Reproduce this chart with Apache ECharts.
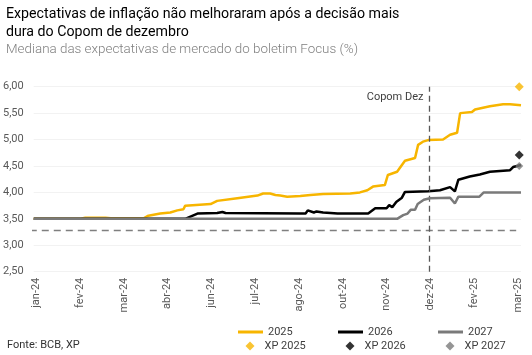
<!DOCTYPE html>
<html>
<head>
<meta charset="utf-8">
<script src="https://cdn.jsdelivr.net/npm/echarts@6/dist/echarts.min.js"></script>
<style>
html,body{margin:0;padding:0;background:#fff;}
#c{width:532px;height:355px;}
</style>
</head>
<body>
<div id="c"></div>
<script>
// x unit: 10 units between consecutive axis labels
const tickPos = [0, 10, 20, 30, 40, 50, 60, 70, 80, 90, 100, 110];
const tickLabels = ['jan-24','fev-24','mar-24','abr-24','jun-24','jul-24','ago-24','out-24','nov-24','dez-24','fev-25','mar-25'];

const x2025 = [-0.6, 10.1, 11.2, 15.8, 17.0, 24.5, 25.6, 28.3, 30.6, 32.2, 33.6, 34.0, 39.8, 41.3, 45.9, 50.5, 51.8, 53.4, 54.6, 55.7, 57.3, 60.3, 62.6, 65.5, 71.7, 73.9, 75.6, 76.9, 79.6, 80.3, 82.4, 83.5, 84.2, 86.5, 87.2, 88.3, 89.5, 92.9, 94.5, 96.1, 96.8, 99.5, 100.2, 103.6, 106.6, 108.2, 108.6, 110.7];
const y2025 = [3.50, 3.50, 3.52, 3.52, 3.51, 3.51, 3.56, 3.60, 3.62, 3.66, 3.68, 3.75, 3.78, 3.84, 3.89, 3.94, 3.98, 3.98, 3.95, 3.94, 3.92, 3.93, 3.95, 3.97, 3.98, 4.00, 4.04, 4.11, 4.14, 4.33, 4.39, 4.52, 4.60, 4.65, 4.90, 4.96, 4.99, 5.00, 5.09, 5.13, 5.50, 5.52, 5.57, 5.63, 5.67, 5.67, 5.65, 5.65];

const x2026 = [-0.6, 34.0, 36.8, 41.3, 42.5, 43.2, 60.3, 61.5, 62.0, 63.4, 64.0, 65.5, 67.2, 68.8, 75.8, 77.4, 80.0, 80.6, 81.3, 82.2, 83.5, 84.2, 89.5, 92.2, 94.5, 95.6, 96.4, 99.0, 101.3, 103.6, 108.2, 108.9, 110.7];
const y2026 = [3.50, 3.50, 3.60, 3.61, 3.63, 3.61, 3.60, 3.60, 3.66, 3.62, 3.64, 3.62, 3.61, 3.60, 3.60, 3.70, 3.70, 3.76, 3.72, 3.82, 3.90, 4.01, 4.02, 4.04, 4.10, 4.02, 4.24, 4.30, 4.34, 4.39, 4.42, 4.48, 4.52];

const x2027 = [-0.6, 82.4, 83.8, 84.8, 85.5, 86.5, 87.1, 88.5, 89.9, 94.5, 95.6, 96.4, 101.2, 102.2, 110.7];
const y2027 = [3.50, 3.50, 3.57, 3.60, 3.67, 3.67, 3.78, 3.86, 3.89, 3.90, 3.79, 3.92, 3.92, 4.00, 4.00];

const xpX = 110.3;
const xp2025 = 6.00;
const xp2026 = 4.71;
const xp2027 = 4.50;

const refLineX = [-1.5, 109.6];
const refLineY = 3.28;
const copomX = 89.8;
const copomLabel = 'Copom Dez';

const zip = (xs, ys) => xs.map((x, i) => [x, ys[i]]);

const FONT = 'Roboto';
const chart = echarts.init(document.getElementById('c'), null, {renderer: 'canvas'});

const option = {
  animation: false,
  backgroundColor: '#fff',
  textStyle: {fontFamily: FONT},
  title: {
    left: 6, top: 5, padding: 0, itemGap: 2,
    text: 'Expectativas de inflação não melhoraram após a decisão mais\ndura do Copom de dezembro',
    textStyle: {fontFamily: FONT, fontSize: 14.2, fontWeight: 400, color: '#000', lineHeight: 18},
    subtext: 'Mediana das expectativas de mercado do boletim Focus (%)',
    subtextStyle: {fontFamily: FONT, fontSize: 13.4, fontWeight: 300, color: '#7f7f7f', lineHeight: 14}
  },
  grid: {left: 33, right: 11, top: 86.7, bottom: 83.3, containLabel: false},
  xAxis: {
    type: 'value', min: -0.6, max: 110.7,
    axisLine: {show: false}, axisTick: {show: false}, splitLine: {show: false},
    axisLabel: {
      customValues: tickPos,
      rotate: 90, margin: 6, fontSize: 11, color: '#595959', fontFamily: FONT,
      formatter: v => { const i = tickPos.indexOf(Math.round(v)); return i >= 0 ? tickLabels[i] : ''; }
    }
  },
  yAxis: {
    type: 'value', min: 2.5, max: 6, interval: 0.5,
    axisLine: {show: false}, axisTick: {show: false},
    splitLine: {lineStyle: {color: '#f2f2f2', width: 1}},
    axisLabel: {margin: 10, fontSize: 11, color: '#595959', fontFamily: FONT,
      formatter: v => v.toFixed(2).replace('.', ',')}
  },
  legend: [
    {
      data: [{name: '2025', icon: 'rect'}, {name: '2026', icon: 'rect'}, {name: '2027', icon: 'rect'}],
      left: 238, top: 325, width: 294, itemWidth: 25, itemHeight: 3, itemGap: 8, padding: 0,
      textStyle: {fontFamily: FONT, fontSize: 11, color: '#404040', width: 62, lineHeight: 14}
    },
    {
      data: [{name: 'XP 2025', icon: 'diamond'}, {name: 'XP 2026', icon: 'diamond'}, {name: 'XP 2027', icon: 'diamond'}],
      left: 245.5, top: 339, width: 286, itemWidth: 9, itemHeight: 9, itemGap: 15, padding: 0,
      textStyle: {fontFamily: FONT, fontSize: 11, color: '#404040', width: 66, lineHeight: 14, padding: [0, 0, 0, 5]}
    }
  ],
  series: [
    {
      name: 'ref', type: 'line', data: zip(refLineX, [refLineY, refLineY]), symbol: 'none', clip: false,
      lineStyle: {color: '#7f7f7f', width: 1.5, type: [7, 5]}, silent: true, z: 1
    },
    {
      name: '2025', type: 'line', data: zip(x2025, y2025), symbol: 'none',
      lineStyle: {color: '#F7B500', width: 2.5}, itemStyle: {color: '#F7B500'}, z: 3
    },
    {
      name: '2026', type: 'line', data: zip(x2026, y2026), symbol: 'none',
      lineStyle: {color: '#000000', width: 2.5}, itemStyle: {color: '#000000'}, z: 4,
      markLine: {
        silent: true, symbol: 'none', label: {show: false},
        lineStyle: {color: '#595959', width: 1.3, type: [6, 4]},
        data: [{xAxis: copomX}]
      }
    },
    {
      name: '2027', type: 'line', data: zip(x2027, y2027), symbol: 'none',
      lineStyle: {color: '#7a7a7a', width: 2.5}, itemStyle: {color: '#7a7a7a'}, z: 5
    },
    {name: 'XP 2025', type: 'scatter', data: [[xpX, xp2025]], symbol: 'diamond', symbolSize: 9, clip: false,
      itemStyle: {color: '#F7B500'}, z: 6},
    {name: 'XP 2026', type: 'scatter', data: [[xpX, xp2026]], symbol: 'diamond', symbolSize: 9, clip: false,
      itemStyle: {color: '#000000'}, z: 6},
    {name: 'XP 2027', type: 'scatter', data: [[xpX, xp2027]], symbol: 'diamond', symbolSize: 8, clip: false,
      itemStyle: {color: '#7a7a7a'}, z: 6}
  ]
};
chart.setOption(option);

const p = chart.convertToPixel({gridIndex: 0}, [copomX, 6]);
chart.setOption({
  graphic: [
    {type: 'text', x: p[0] - 6, y: p[1] + 11,
      style: {text: copomLabel, fontFamily: FONT, fontSize: 11, fill: '#404040', align: 'right', verticalAlign: 'middle'}},
    {type: 'text', left: 7, top: 340,
      style: {text: 'Fonte: BCB, XP', fontFamily: FONT, fontSize: 11, fill: '#333333'}}
  ]
});
</script>
</body>
</html>
